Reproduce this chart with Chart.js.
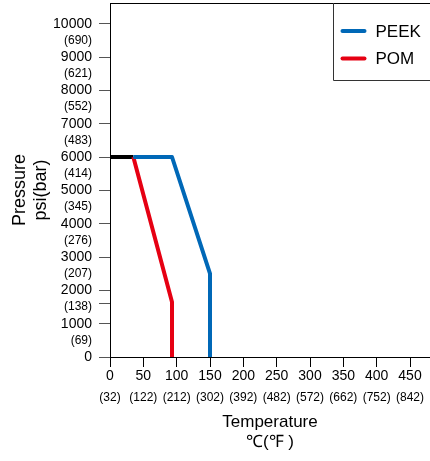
<!DOCTYPE html>
<html><head><meta charset="utf-8">
<script src="https://cdn.jsdelivr.net/npm/chart.js@4.4.1/dist/chart.umd.min.js"></script>
<style>html,body{margin:0;padding:0;background:#fff;overflow:hidden}#wrap{width:430px;height:461px}</style>
</head><body><div id="wrap"><canvas id="c" width="430" height="461"></canvas></div>
<script>
// ---- data ----
const seriesNames = ['PEEK', 'POM'];
const seriesColors = ['#0068B7', '#E60012'];
const peekTemp = [35, 93, 150, 150];
const peekPsi = [6000, 6000, 2500, 0];
const pomTemp = [35, 93, 93];
const pomPsi = [6000, 1650, 0];
const sharedTemp = [0, 35];
const sharedPsi = [6000, 6000];

const psiTicks = [0, 500, 1000, 1500, 1600, 2000, 2500, 3000, 3500, 4000, 4500, 5000, 5500, 6000, 6500, 7000, 7500, 8000, 8500, 9000, 9500, 10000];
const psiMarked = [0, 1000, 1600, 2000, 3000, 4000, 5000, 6000, 7000, 8000, 9000, 10000];
const psiLabelValues = [0, 1000, 2000, 3000, 4000, 5000, 6000, 7000, 8000, 9000, 10000];
const barValues = [500, 1500, 2500, 3500, 4500, 5500, 6500, 7500, 8500, 9500];
const barLabels = ['(69)', '(138)', '(207)', '(276)', '(345)', '(414)', '(483)', '(552)', '(621)', '(690)'];
const tempTicks = [0, 50, 100, 150, 200, 250, 300, 350, 400, 450];
const fahrenheitLabels = ['(32)', '(122)', '(212)', '(302)', '(392)', '(482)', '(572)', '(662)', '(752)', '(842)'];

const FONT = '"Liberation Sans", Arial, Helvetica, sans-serif';
const pts = (xs, ys) => xs.map((x, i) => ({x, y: ys[i]}));

const frameLegend = {
  id: 'frameLegend',
  afterDraw(chart) {
    const {ctx, chartArea: a} = chart;
    ctx.save();
    ctx.strokeStyle = '#000';
    ctx.lineWidth = 1;
    ctx.beginPath();
    ctx.moveTo(a.left, a.top + 0.5);
    ctx.lineTo(a.right, a.top + 0.5);
    ctx.stroke();
    // legend box
    const bx = Math.round(a.right - 97) + 0.5, by = a.top + 77.5;
    ctx.strokeStyle = '#333';
    ctx.beginPath();
    ctx.moveTo(bx, a.top);
    ctx.lineTo(bx, by);
    ctx.lineTo(a.right, by);
    ctx.stroke();
    const items = chart.data.datasets.filter(d => seriesNames.includes(d.label));
    ctx.font = '17px ' + FONT;
    ctx.textBaseline = 'middle';
    ctx.textAlign = 'left';
    items.forEach((d, i) => {
      const y = a.top + 28 + i * 27.5;
      ctx.strokeStyle = d.borderColor;
      ctx.lineWidth = 4;
      ctx.lineCap = 'round';
      ctx.beginPath();
      ctx.moveTo(bx + 9, y);
      ctx.lineTo(bx + 31, y);
      ctx.stroke();
      ctx.fillStyle = '#000';
      ctx.fillText(d.label, bx + 42, y + 1);
    });
    ctx.restore();
  }
};

new Chart(document.getElementById('c'), {
  type: 'line',
  data: {
    datasets: [
      {label: seriesNames[0], data: pts(peekTemp, peekPsi), borderColor: seriesColors[0], borderWidth: 4, pointRadius: 0, borderJoinStyle: 'round', fill: false},
      {label: seriesNames[1], data: pts(pomTemp, pomPsi), borderColor: seriesColors[1], borderWidth: 4, pointRadius: 0, borderJoinStyle: 'round', fill: false},
      {label: 'shared', data: pts(sharedTemp, sharedPsi), borderColor: '#000', borderWidth: 4, pointRadius: 0, fill: false}
    ]
  },
  options: {
    responsive: false,
    devicePixelRatio: 1,
    animation: false,
    layout: {padding: {top: 3, left: 0, right: 0, bottom: 0}},
    plugins: {legend: {display: false}, tooltip: {enabled: false}},
    scales: {
      x: {
        type: 'linear', position: 'bottom', min: 0, max: 480, weight: 0,
        afterBuildTicks: s => { s.ticks = tempTicks.map(v => ({value: v})); },
        ticks: {font: {family: FONT, size: 14}, color: '#000', padding: 1, autoSkip: false, maxRotation: 0,
          callback: v => String(v)},
        grid: {drawOnChartArea: false, tickLength: 10, color: '#000'},
        border: {color: '#000'}
      },
      x2: {
        type: 'linear', position: 'bottom', min: 0, max: 480, weight: 1,
        afterBuildTicks: s => { s.ticks = tempTicks.map(v => ({value: v})); },
        ticks: {font: {family: FONT, size: 12}, color: '#000', padding: 5, autoSkip: false, maxRotation: 0,
          callback: (v, i) => fahrenheitLabels[tempTicks.indexOf(v)] || ''},
        grid: {display: false, drawTicks: false},
        border: {display: false},
        title: {display: true, text: ['Temperature', '℃(℉ )'], color: '#000', font: {family: FONT, size: 17}, padding: {top: 2, bottom: 8}}
      },
      y: {
        type: 'linear', position: 'left', min: 0, max: 10620,
        afterBuildTicks: s => { s.ticks = psiTicks.map(v => ({value: v})); },
        afterFit: s => { s.width = 110; s.paddingTop = 0; s.paddingBottom = 0; },
        ticks: {
          color: '#000', padding: 7, autoSkip: false,
          font: c => ({family: FONT, size: (c.tick && psiLabelValues.includes(c.tick.value)) ? 14 : 12}),
          callback: v => psiLabelValues.includes(v) ? String(v) : (barValues.includes(v) ? barLabels[barValues.indexOf(v)] : '')
        },
        grid: {drawOnChartArea: false, tickLength: 11,
          color: c => (c.tick && psiMarked.includes(c.tick.value)) ? '#555' : 'rgba(0,0,0,0)'},
        border: {color: '#000'},
        title: {display: true, text: ['Pressure    ', 'psi(bar)    '], color: '#000', font: {family: FONT, size: 18}, padding: {top: 9, bottom: 0}}
      }
    }
  },
  plugins: [frameLegend]
});
</script>
</body></html>
